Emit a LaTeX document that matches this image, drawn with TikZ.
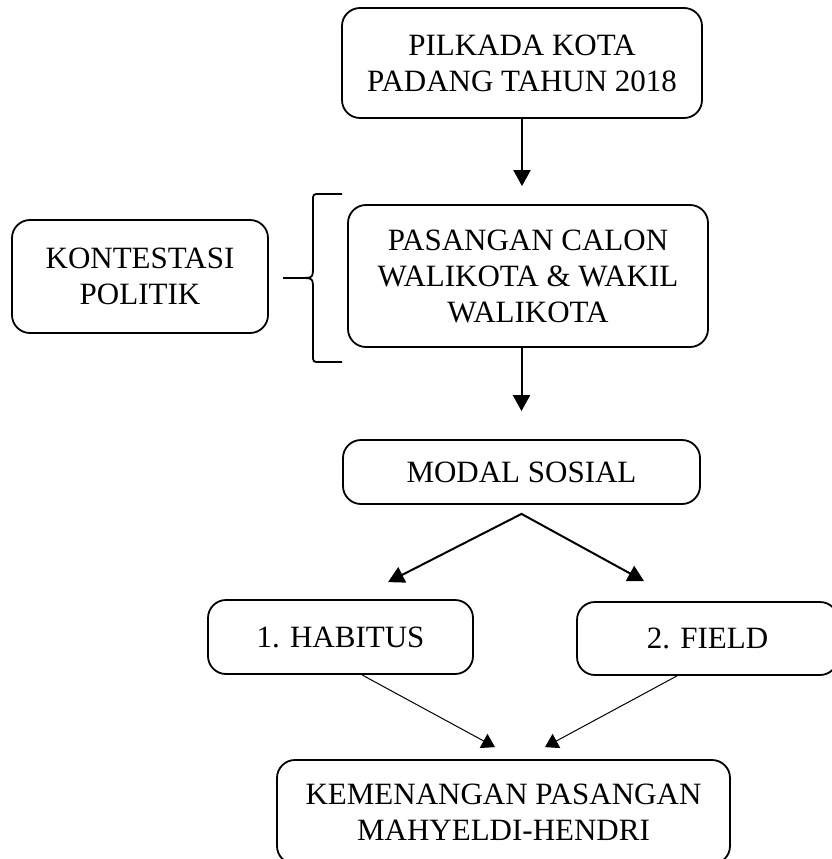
\documentclass[tikz,border=0pt]{standalone}
\usepackage{fontspec}
\setmainfont{Liberation Serif}
\usetikzlibrary{arrows.meta}

\begin{document}
\begin{tikzpicture}[x=1pt, y=-1pt,
  box/.style={draw, line width=1.8pt, rounded corners=18pt, align=center,
    inner sep=0pt, font=\fontsize{31}{36}\selectfont},
  flow/.style={line width=2pt, -{Triangle[width=17pt,length=16pt]}},
  twoway/.style={line width=2pt, line join=miter,
    {Triangle[width=17pt,length=16pt]}-{Triangle[width=17pt,length=16pt]}},
  thinflow/.style={line width=1pt, -{Triangle[width=16pt,length=13pt]}}]

  % Page frame (pixel units, y runs down)
  \useasboundingbox (0,0) rectangle (831,859);

  % Main column of boxes
  \node[box, minimum width=360pt, minimum height=110pt] (pilkada) at (522,63)
    {PILKADA KOTA\\PADANG TAHUN 2018};
  \node[box, minimum width=360pt, minimum height=142pt] (pasangan) at (528,276)
    {PASANGAN CALON\\WALIKOTA \& WAKIL\\WALIKOTA};
  \node[box, minimum width=357pt, minimum height=64pt] (modal) at (521.5,472)
    {MODAL SOSIAL};

  % Side box with its brace
  \node[box, minimum width=256pt, minimum height=113pt] (kontes) at (140,276.5)
    {KONTESTASI\\POLITIK};
  \draw[line width=1.8pt] (342,194) -- (320,194) .. controls (313,194) .. (313,201)
    -- (313,266) .. controls (313,278) .. (300,278) -- (283,278) -- (300,278)
    .. controls (313,278) .. (313,290) -- (313,355) .. controls (313,362) .. (320,362)
    -- (342,362);

  % Two branches
  \node[box, minimum width=265pt, minimum height=74pt] (habitus) at (340.5,637)
    {1. HABITUS};
  \node[box, minimum width=261pt, minimum height=73pt] (field) at (707.5,638.5)
    {2. FIELD};

  % Result box
  \node[box, minimum width=453pt, minimum height=104pt] (menang) at (503.5,812)
    {KEMENANGAN PASANGAN\\MAHYELDI-HENDRI};

  % Vertical arrows
  \draw[flow, shorten >=18pt] (pilkada.south) -- (pilkada.south |- pasangan.north);
  \draw[flow, shorten >=28pt] (modal.north |- pasangan.south) -- (modal.north);

  % Split into habitus and field
  \coordinate (split) at ([yshift=-9pt]modal.south);
  \coordinate (habTip) at ([xshift=47.5pt, yshift=17pt]habitus.north);
  \coordinate (fldTip) at ([xshift=-63.5pt, yshift=20pt]field.north);
  \draw[twoway] (habTip) -- (split) -- (fldTip);

  % Thin arrows into the result
  \coordinate (habFoot) at ([xshift=21.5pt]habitus.south);
  \coordinate (fldFoot) at ([xshift=-30.5pt]field.south);
  \draw[thinflow] (habFoot) -- ([xshift=-8.5pt, yshift=12pt]menang.north);
  \draw[thinflow] (fldFoot) -- ([xshift=41.5pt, yshift=12pt]menang.north);

\end{tikzpicture}
\end{document}
